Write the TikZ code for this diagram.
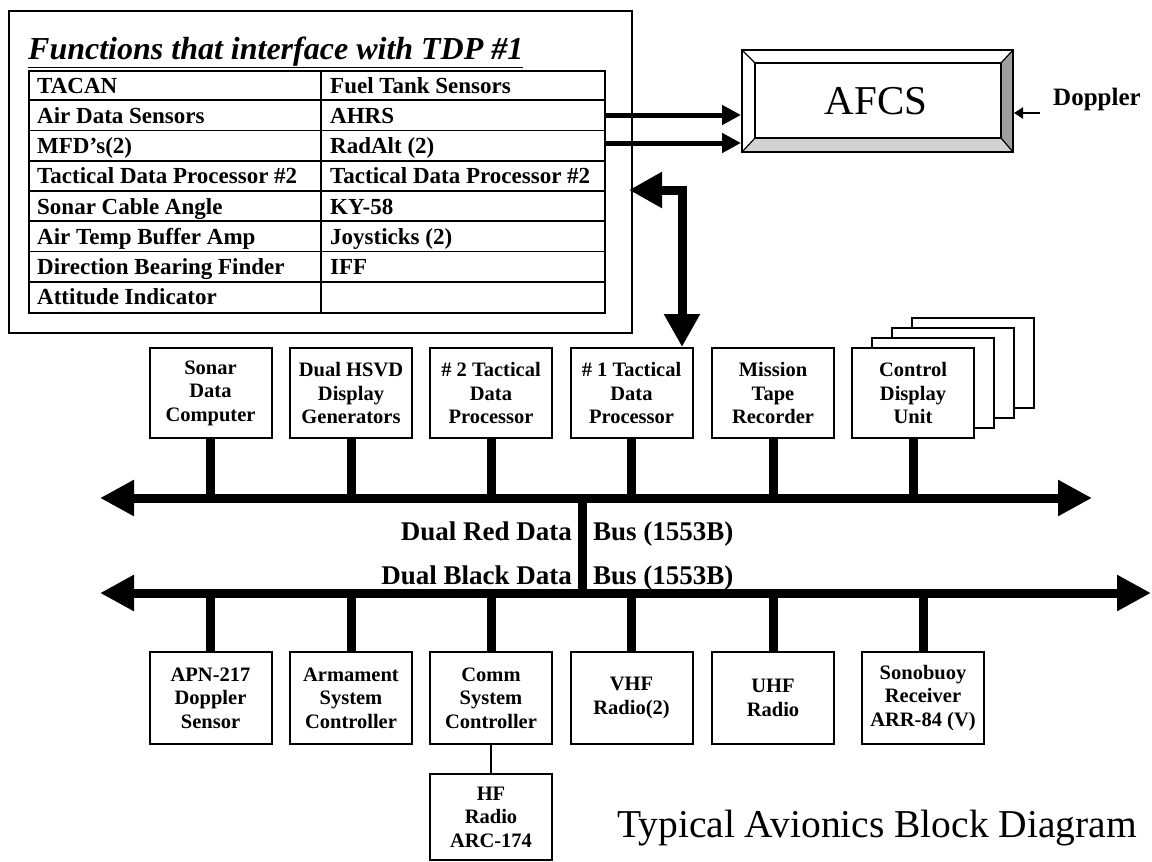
\documentclass[tikz,border=0pt]{standalone}
\usepackage{fontspec}
\setmainfont{Liberation Serif}
\usetikzlibrary{arrows.meta}
\begin{document}
\begin{tikzpicture}[x=1pt,y=-1pt,
  box/.style={draw,line width=2pt,fill=white,minimum width=122pt,minimum height=90pt,inner sep=0pt,align=center,font=\fontsize{20.5}{23.5}\selectfont\bfseries},
  cell/.style={anchor=base west,inner sep=0pt,font=\fontsize{23}{26}\selectfont\bfseries},
  buslbl/.style={inner sep=0pt,font=\fontsize{27}{30}\selectfont\bfseries},
  bigtip/.tip={Triangle[length=34pt,width=34pt]},
  bus/.style={line width=9pt,bigtip-bigtip},
  stub/.style={line width=9pt},
  afcsarrow/.style={line width=5pt,-{Triangle[length=19pt,width=19pt]}},
]
\useasboundingbox (0,0) rectangle (1152,862);

% frame and table
\node[draw,line width=2pt,minimum width=623pt,minimum height=322pt,inner sep=0pt,anchor=north west] (frame) at (8,10) {};
\node[anchor=base west,inner sep=0pt,font=\fontsize{32}{36}\selectfont\bfseries\itshape] (ttl) at (28,59) {\underline{Functions that interface with TDP \#1}};
\node[draw,line width=2pt,minimum width=576pt,minimum height=242pt,inner sep=0pt,anchor=north west] (tbl) at (28,70) {};
\foreach \i in {1,...,7} \draw[line width=1.8pt] (28,{70+30.25*\i}) -- (604,{70+30.25*\i});
\draw[line width=1.8pt] (321,70) -- (321,312);

\node[cell] (l1) at (37,93) {TACAN};
\node[cell] (l2) at (37,123.25) {Air Data Sensors};
\node[cell] (l3) at (37,153.5) {MFD’s(2)};
\node[cell] (l4) at (37,183.75) {Tactical Data Processor \#2};
\node[cell] (l5) at (37,214) {Sonar Cable Angle};
\node[cell] (l6) at (37,244.25) {Air Temp Buffer Amp};
\node[cell] (l7) at (37,274.5) {Direction Bearing Finder};
\node[cell] (l8) at (37,304.75) {Attitude Indicator};
\node[cell] (r1) at (330,93) {Fuel Tank Sensors};
\node[cell] (r2) at (330,123.25) {AHRS};
\node[cell] (r3) at (330,153.5) {RadAlt (2)};
\node[cell] (r4) at (330,183.75) {Tactical Data Processor \#2};
\node[cell] (r5) at (330,214) {KY-58};
\node[cell] (r6) at (330,244.25) {Joysticks (2)};
\node[cell] (r7) at (330,274.5) {IFF};

% AFCS
\fill[gray!35] (742,152) -- (755,138) -- (1001,138) -- (1013,152) -- cycle;
\fill[gray!75] (1013,50) -- (1001,63) -- (1001,138) -- (1013,152) -- cycle;
\node[draw,line width=2pt,minimum width=271pt,minimum height=102pt,inner sep=0pt] (afcs) at (877.5,101) {};
\draw[line width=2pt] (755,63) rectangle (1001,138);
\draw[line width=1.2pt] (742,50) -- (755,63) (1013,50) -- (1001,63) (742,152) -- (755,138) (1013,152) -- (1001,138);
\node[inner sep=0pt,font=\fontsize{41}{44}\selectfont] (afcstxt) at (876,101) {AFCS};

\coordinate (a1) at (604,115);
\coordinate (a2) at (604,143);
\draw[afcsarrow] (a1) -- (afcs.west |- a1);
\draw[afcsarrow] (a2) -- (afcs.west |- a2);

\node[anchor=base west,inner sep=0pt,font=\fontsize{25}{28}\selectfont\bfseries] (dopp) at (1053,105) {Doppler};
\coordinate (dstart) at (1040,113);
\draw[line width=2pt,-{Triangle[length=9pt,width=11pt]}] (dstart) -- (afcs.east |- dstart);

% top boxes
\node[box] (sonar) at (210.5,393) {Sonar\\Data\\Computer};
\node[box] (hsvd) at (351,393) {Dual HSVD\\Display\\Generators};
\node[box] (tdp2) at (491,393) {\# 2 Tactical\\Data\\Processor};
\node[box] (tdp1) at (631.5,393) {\# 1 Tactical\\Data\\Processor};
\node[box] (mtr) at (773,393) {Mission\\Tape\\Recorder};
\node[box] (cdu3) at (973,363) {};
\node[box] (cdu2) at (953,373) {};
\node[box] (cdu1) at (933,383) {};
\node[box] (cdu) at (913,393) {Control\\Display\\Unit};

% double arrow from frame to TDP1
\coordinate (dtip) at (629,190);
\coordinate (dcorner) at (682,190);
\draw[line width=9pt,{Triangle[length=33pt,width=34pt]}-{Triangle[length=33pt,width=34pt]}] (dtip) -- (dcorner) -- (dcorner |- tdp1.north);

% buses
\coordinate (btl) at (100,498);
\coordinate (btr) at (1092,498);
\coordinate (bbl) at (100,593);
\coordinate (bbr) at (1151,593);
\coordinate (vtop) at (582,498);
\coordinate (vbot) at (582,593);
\draw[bus] (btl) -- (btr);
\draw[bus] (bbl) -- (bbr);
\draw[stub] (vtop) -- (vbot);
\foreach \n in {sonar,hsvd,tdp2,tdp1,mtr,cdu} \draw[stub] (\n.south) -- (\n.south |- btl);

\node[buslbl,anchor=base east] (red1) at (572,540) {Dual Red Data};
\node[buslbl,anchor=base west] (red2) at (593,540) {Bus (1553B)};
\node[buslbl,anchor=base east] (blk1) at (572,584) {Dual Black Data};
\node[buslbl,anchor=base west] (blk2) at (593,584) {Bus (1553B)};

% bottom boxes
\node[box,minimum height=92pt] (apn) at (210.5,698) {APN-217\\Doppler\\Sensor};
\node[box,minimum height=92pt] (arm) at (351,698) {Armament\\System\\Controller};
\node[box,minimum height=92pt] (comm) at (491,698) {Comm\\System\\Controller};
\node[box,minimum height=92pt] (vhf) at (631.5,698) {VHF\\Radio(2)};
\node[box,minimum height=92pt] (uhf) at (773,698) {UHF\\Radio};
\node[box,minimum height=92pt] (sono) at (923,698) {Sonobuoy\\Receiver\\ARR-84 (V)};
\foreach \n in {apn,arm,comm,vhf,uhf,sono} \draw[stub] (\n.north) -- (\n.north |- bbl);

\node[box,minimum height=86pt] (hf) at (491,817) {HF\\Radio\\ARC-174};
\draw[line width=2pt] (comm.south) -- (hf.north);

\node[anchor=base west,inner sep=0pt,font=\fontsize{39.5}{44}\selectfont] (main) at (617,837) {Typical Avionics Block Diagram};
\end{tikzpicture}
\end{document}
